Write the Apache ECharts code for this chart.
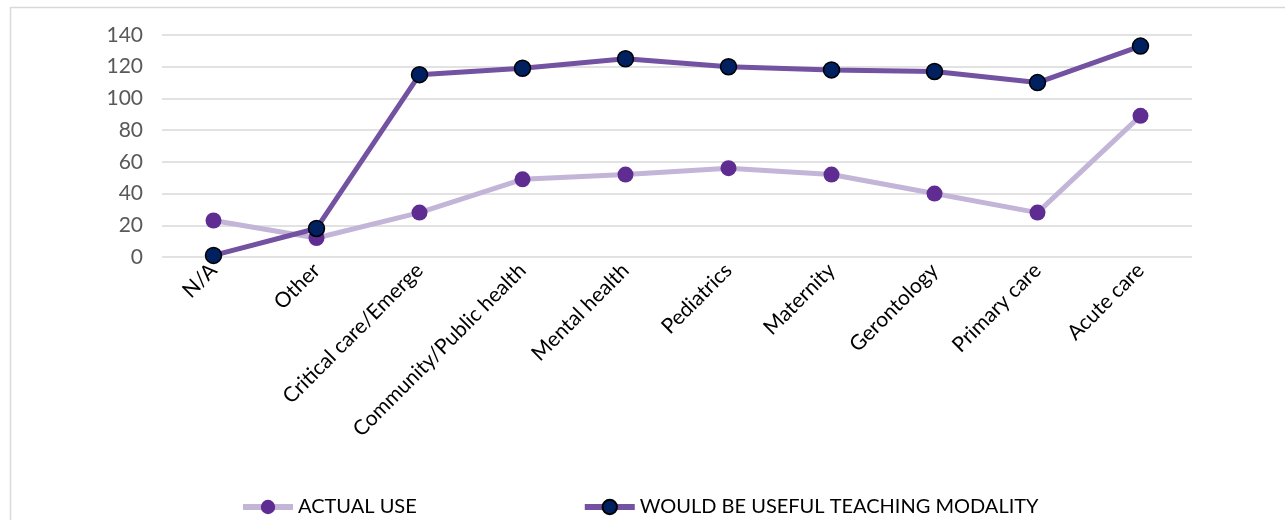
<!DOCTYPE html>
<html>
<head>
<meta charset="utf-8">
<script src="https://cdn.jsdelivr.net/npm/echarts@6/dist/echarts.min.js"></script>
<style>
html,body{margin:0;padding:0;background:#fff;}
#chart{width:1285px;height:520px;}
</style>
</head>
<body>
<div id="chart"></div>
<script>
const categories = ["N/A","Other","Critical care/Emerge","Community/Public health","Mental health","Pediatrics","Maternity","Gerontology","Primary care","Acute care"];
const actualUse = [23,12,28,49,52,56,52,40,28,89];
const wouldBeUseful = [1,18,115,119,125,120,118,117,110,133];
const yTicks = {min:0,max:140,interval:20};

const chart = echarts.init(document.getElementById('chart'), null, {renderer:'canvas'});
const font = 'Lato, "Liberation Sans", sans-serif';
chart.setOption({
  animation:false,
  backgroundColor:'#ffffff',
  graphic:[{
    type:'rect',
    shape:{x:10.5,y:7.5,width:1400,height:700},
    style:{fill:'none',stroke:'#D9D9D9',lineWidth:1.5},
    silent:true,z:-1
  }],
  grid:{left:162,right:93,top:35,bottom:263,containLabel:false},
  legend:{
    bottom:3,left:240,padding:0,
    itemWidth:50,itemHeight:18,itemGap:165,
    textStyle:{fontFamily:font,fontSize:20,color:'#000'},
    data:[
      {name:'ACTUAL USE',lineStyle:{width:6,color:'#C3B5D8'}},
      {name:'WOULD BE USEFUL TEACHING MODALITY',lineStyle:{width:6,color:'#7452A2'}}
    ]
  },
  xAxis:{
    type:'category',
    data:categories,
    boundaryGap:true,
    axisLine:{show:false},
    axisTick:{show:false},
    axisLabel:{rotate:45,fontFamily:font,fontSize:21,color:'#000',margin:10,interval:0}
  },
  yAxis:{
    type:'value',
    min:yTicks.min,max:yTicks.max,interval:yTicks.interval,
    axisLine:{show:false},axisTick:{show:false},
    axisLabel:{fontFamily:font,fontSize:21,color:'#595959',margin:19},
    splitLine:{lineStyle:{color:'#D9D9D9',width:1.5}}
  },
  series:[
    {
      name:'ACTUAL USE',type:'line',data:actualUse,
      symbol:'circle',symbolSize:16,
      lineStyle:{color:'#C3B5D8',width:5},
      itemStyle:{color:'#5F2D91',borderColor:'#5F2D91',borderWidth:0},
      z:2
    },
    {
      name:'WOULD BE USEFUL TEACHING MODALITY',type:'line',data:wouldBeUseful,
      symbol:'circle',symbolSize:16,
      lineStyle:{color:'#7452A2',width:5},
      itemStyle:{color:'#002060',borderColor:'#000000',borderWidth:1.5},
      z:3
    }
  ]
});
</script>
</body>
</html>
